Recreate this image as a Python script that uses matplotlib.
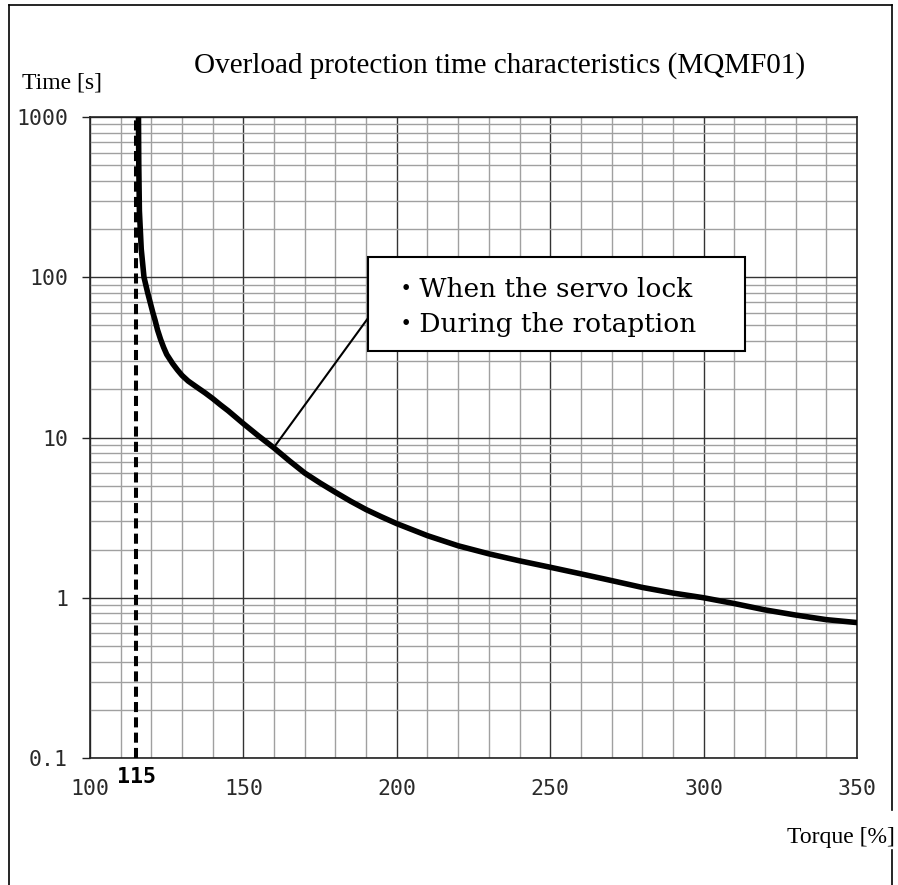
## Import libraries
import matplotlib
matplotlib.use('Agg')
import matplotlib.pyplot as plt
from matplotlib.lines import Line2D
from matplotlib.patches import Rectangle
from matplotlib.ticker import FixedLocator, NullFormatter

## Data
torque = [115.8, 115.9, 116.1, 116.7, 117.6, 118.8, 120.5, 121.2, 122.0, 123.0,
          124.0, 125.0, 127.0, 128.5, 130.0, 132.0, 135.0, 137.5, 140.0, 142.5,
          145.0, 150.0, 155.0, 160.0, 165.0, 170.0, 175.0, 180.0, 185.0, 190.0,
          195.0, 200.0, 210.0, 220.0, 230.0, 240.0, 250.0, 260.0, 270.0, 280.0,
          290.0, 300.0, 310.0, 320.0, 330.0, 340.0, 350.0]
time_s = [1000, 500, 260, 150, 100, 80, 60, 54, 47, 41,
          36.5, 33, 28.8, 26.4, 24.4, 22.5, 20.5, 19.0, 17.5, 16.0,
          14.7, 12.2, 10.2, 8.6, 7.15, 6.0, 5.2, 4.55, 4.0, 3.55,
          3.2, 2.9, 2.44, 2.11, 1.88, 1.70, 1.55, 1.41, 1.28, 1.16,
          1.07, 1.0, 0.92, 0.84, 0.78, 0.73, 0.70]
limit_torque = 115
x_ticks = [100, 150, 200, 250, 300, 350]
x_minor = list(range(100, 351, 10))
y_ticks = [0.1, 1, 10, 100, 1000]
y_labels = ['0.1', '1', '10', '100', '1000']
y_minor = [m * d for d in [0.1, 1, 10, 100] for m in range(2, 10)]
legend_lines = ['・When the servo lock', '・During the rotaption']

W, H = 898, 885
fig = plt.figure(figsize=(W / 100, H / 100), dpi=100)
ax = fig.add_axes([90 / W, (H - 758) / H, 767 / W, 641 / H])

ax.set_yscale('log')
ax.set_xlim(100, 350)
ax.set_ylim(0.1, 1000)

## Grid
ax.xaxis.set_major_locator(FixedLocator(x_ticks))
ax.xaxis.set_minor_locator(FixedLocator(x_minor))
ax.yaxis.set_major_locator(FixedLocator(y_ticks))
ax.yaxis.set_minor_locator(FixedLocator(y_minor))
ax.yaxis.set_minor_formatter(NullFormatter())
ax.set_yticklabels(y_labels)
ax.set_axisbelow(True)
ax.grid(which='minor', color='#a0a0a0', lw=1.0)
ax.grid(which='major', color='#333333', lw=1.0)

tick_font = dict(family='DejaVu Sans Mono', size=15.5)
for lab in ax.get_xticklabels() + ax.get_yticklabels():
    lab.set_fontfamily('DejaVu Sans Mono')
    lab.set_fontsize(15.5)
    lab.set_color('#2a2a2a')
ax.tick_params(axis='x', which='both', length=0, pad=15)
ax.tick_params(axis='y', which='major', length=5.8, width=1, pad=10, color='#222222')
ax.tick_params(axis='y', which='minor', length=0)
for s in ax.spines.values():
    s.set_color('#222222')
    s.set_linewidth(1.2)

## Curve and 115% limit
ax.axvline(limit_torque, color='black', lw=2.9, dashes=(2.5, 1.3), zorder=3)
ax.plot(torque, time_s, color='black', lw=4, zorder=4, solid_joinstyle='round')
ax.annotate('115', xy=(limit_torque, 0), xycoords=('data', 'axes fraction'),
            xytext=(0, -6.5), textcoords='offset points', ha='center', va='top',
            fontweight='bold', **tick_font)

## Note box with leader line
ax.plot([160, 190.6], [8.7, 55.5], color='black', lw=1.5, zorder=4)
ax.add_patch(Rectangle((0.3625, 0.635), 0.4915, 0.1466, transform=ax.transAxes,
                       facecolor='white', edgecolor='black', lw=1.5, zorder=5,
                       clip_on=False))
for i, line in enumerate(legend_lines):
    ax.text(0.395, 0.7192 - i * 0.0546, line, transform=ax.transAxes,
            family=['DejaVu Serif', 'Noto Sans CJK JP'], fontsize=19,
            va='baseline', ha='left', zorder=6)

## Titles and axis labels
fig.text(500 / W, 1 - 73 / H, 'Overload protection time characteristics (MQMF01)',
         family='Liberation Serif', fontsize=21, ha='center', va='baseline')
fig.text(22 / W, 1 - 83 / H, 'Time [s]', family='Liberation Serif', fontsize=17,
         ha='left', va='center')
fig.text(895 / W, 1 - 837 / H, 'Torque [%]', family='Liberation Serif', fontsize=17,
         ha='right', va='center')

## Outer frame
frame = [([9, 892], [5, 5]), ([9, 9], [5, H]), ([892, 892], [5, 810]), ([892, 892], [850, H])]
for xs, ys in frame:
    fig.add_artist(Line2D([x / W for x in xs], [1 - y / H for y in ys],
                          transform=fig.transFigure, color='black', lw=1.2))

fig.savefig('out.png', dpi=100)
